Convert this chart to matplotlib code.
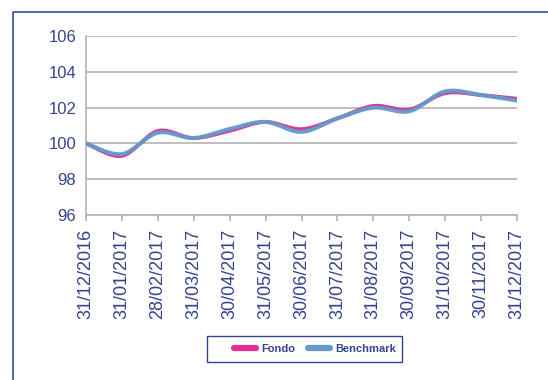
import numpy as np
import matplotlib
matplotlib.use("Agg")
import matplotlib.pyplot as plt
from matplotlib.lines import Line2D
from matplotlib.patches import Rectangle

dates = ["31/12/2016", "31/01/2017", "28/02/2017", "31/03/2017", "30/04/2017",
         "31/05/2017", "30/06/2017", "31/07/2017", "31/08/2017", "30/09/2017",
         "31/10/2017", "30/11/2017", "31/12/2017"]
fondo = [100.0, 99.3, 100.7, 100.3, 100.7, 101.2, 100.8, 101.4, 102.1, 101.9, 102.8, 102.7, 102.5]
benchmark = [100.0, 99.4, 100.6, 100.3, 100.8, 101.2, 100.65, 101.4, 102.0, 101.8, 102.9, 102.7, 102.4]
y_ticks = [96, 98, 100, 102, 104, 106]

NAVY = "#35438F"
GRID = "#B4B4B4"
PINK = "#E0338F"
BLUE = "#6699CC"

plt.rcParams["font.family"] = ["Liberation Sans", "DejaVu Sans"]


def smooth(x, y, steps=24):
    """Catmull-Rom style smoothing (as used by spreadsheet 'smoothed line')."""
    x = np.asarray(x, float)
    y = np.asarray(y, float)
    px = np.concatenate([[x[0]], x, [x[-1]]])
    py = np.concatenate([[y[0]], y, [y[-1]]])
    xs, ys = [], []
    t = np.linspace(0, 1, steps, endpoint=False)
    for i in range(1, len(px) - 2):
        p0x, p1x, p2x, p3x = px[i - 1], px[i], px[i + 1], px[i + 2]
        p0y, p1y, p2y, p3y = py[i - 1], py[i], py[i + 1], py[i + 2]
        c1x = p1x + (p2x - p0x) / 6
        c1y = p1y + (p2y - p0y) / 6
        c2x = p2x - (p3x - p1x) / 6
        c2y = p2y - (p3y - p1y) / 6
        b0 = (1 - t) ** 3
        b1 = 3 * (1 - t) ** 2 * t
        b2 = 3 * (1 - t) * t ** 2
        b3 = t ** 3
        xs.append(b0 * p1x + b1 * c1x + b2 * c2x + b3 * p2x)
        ys.append(b0 * p1y + b1 * c1y + b2 * c2y + b3 * p2y)
    xs.append([x[-1]])
    ys.append([y[-1]])
    return np.concatenate(xs), np.concatenate(ys)


W, H = 548, 380
fig = plt.figure(figsize=(W / 100, H / 100), dpi=100)
ax = fig.add_axes([86 / W, 1 - 215 / H, (517 - 86) / W, (215 - 36) / H])

xpos = np.arange(len(dates))
fx, fy = smooth(xpos, fondo)
bx, by = smooth(xpos, benchmark)
ax.plot(fx, fy, color=PINK, lw=2.6, solid_capstyle="round", zorder=3)
ax.plot(bx, by, color=BLUE, lw=3.0, solid_capstyle="round", zorder=4, alpha=0.95)

ax.set_xlim(0, len(dates) - 1)
ax.set_ylim(96, 106)
ax.set_yticks(y_ticks)
ax.set_xticks(xpos)
ax.set_xticklabels(dates, rotation=90, color=NAVY, fontsize=13)
ax.set_yticklabels([str(v) for v in y_ticks], color=NAVY, fontsize=12)

ax.grid(axis="y", color=GRID, lw=1.2)
ax.set_axisbelow(True)
for s in ["top", "right"]:
    ax.spines[s].set_visible(False)
ax.spines["left"].set_color(GRID)
ax.spines["bottom"].set_color(GRID)
ax.spines["left"].set_linewidth(1.2)
ax.spines["bottom"].set_linewidth(1.2)
ax.tick_params(axis="y", length=0, pad=7)
ax.tick_params(axis="x", length=4, width=1.2, color=GRID, pad=6)

# outer frame (left and top edges)
fig.add_artist(Line2D([13 / W, 13 / W, 1.0], [0.0, 1 - 12 / H, 1 - 12 / H],
                      transform=fig.transFigure, color="#3B4C9B", lw=1.2))

# legend box and entries
fig.add_artist(Rectangle((207 / W, 1 - 362 / H), (402 - 207) / W, (362 - 336) / H,
                         transform=fig.transFigure, facecolor="white",
                         edgecolor=NAVY, lw=1.0))
handles = [Line2D([], [], color=PINK, lw=4.5, solid_capstyle="round"),
           Line2D([], [], color=BLUE, lw=4.5, solid_capstyle="round")]
leg = fig.legend(handles, ["Fondo", "Benchmark"], loc="center left",
                 bbox_to_anchor=(234 / W, 1 - 349 / H), ncol=2,
                 frameon=False, handlelength=2.0, borderpad=0.0,
                 columnspacing=1.15, handletextpad=0.45, borderaxespad=0.0,
                 prop={"size": 8, "weight": "bold"})
for t in leg.get_texts():
    t.set_color(NAVY)

fig.savefig("out.png", dpi=100)
